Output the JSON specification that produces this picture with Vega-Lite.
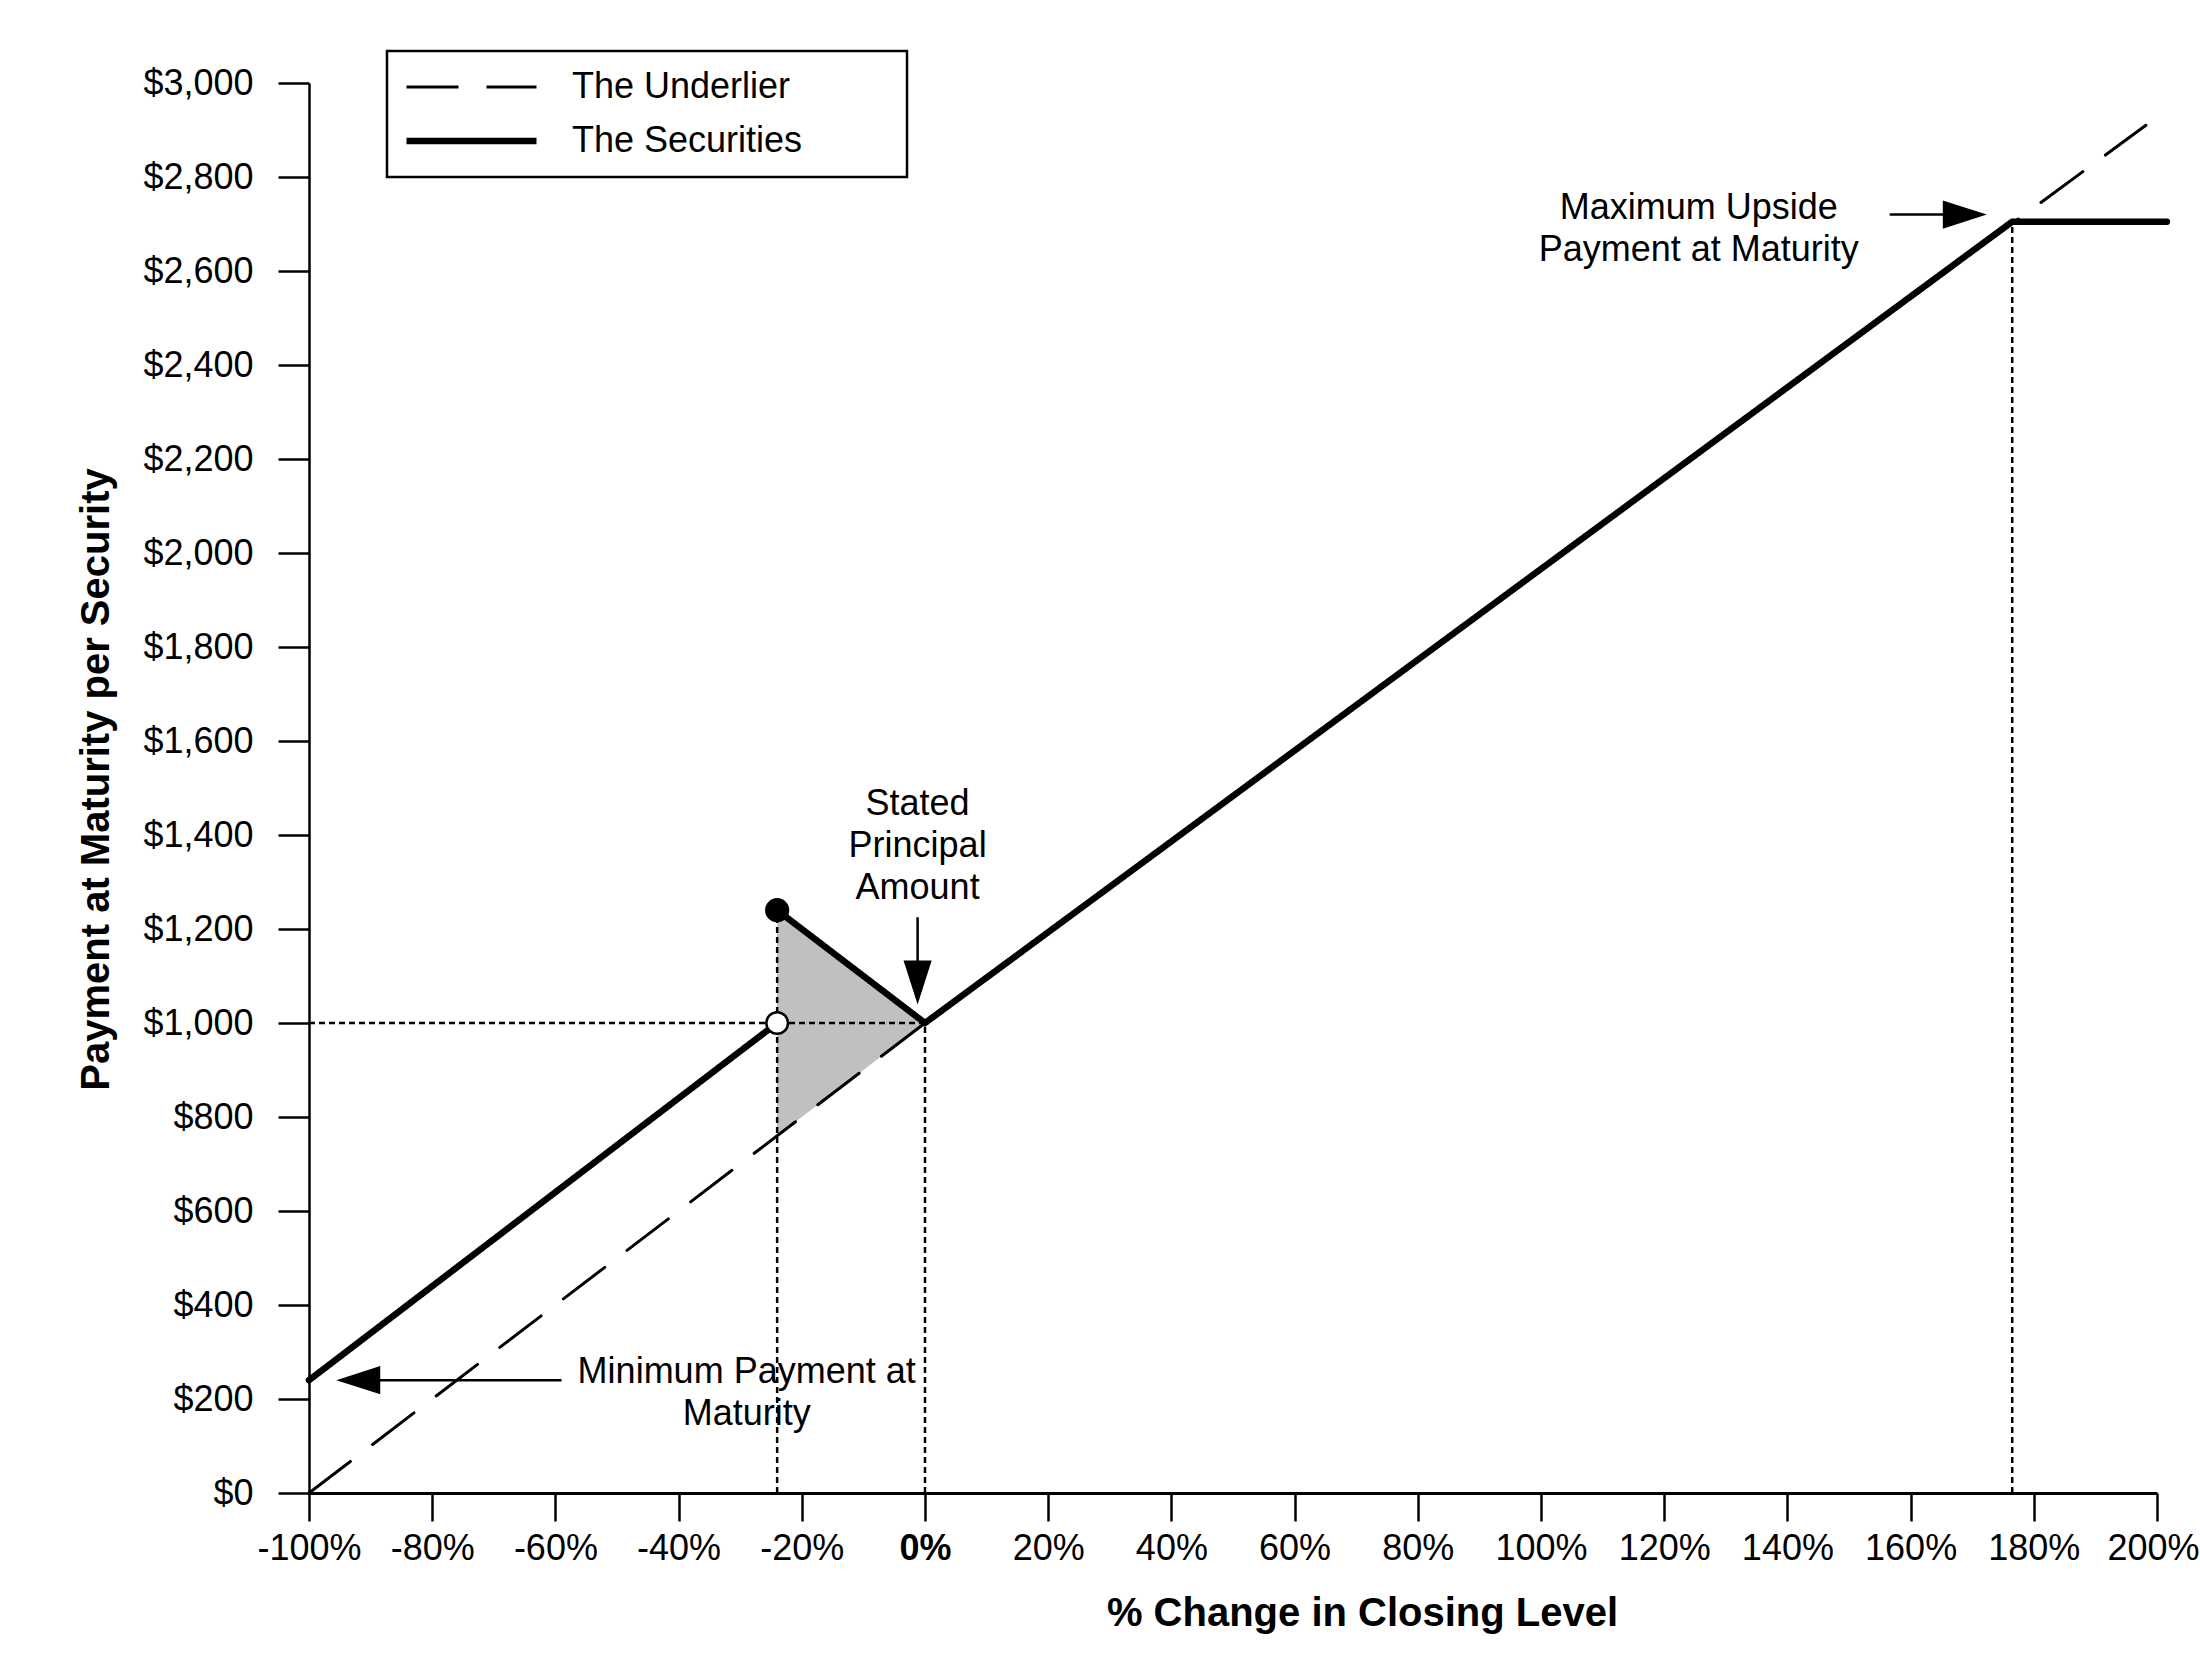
{
  "$schema": "https://vega.github.io/schema/vega-lite/v6.json",
  "width": 1848,
  "height": 1410,
  "autosize": {"type": "none"},
  "padding": {"left": 309, "top": 83, "right": 43, "bottom": 171},
  "background": "white",
  "config": {
    "view": {"stroke": null},
    "font": "Liberation Sans",
    "axis": {
      "grid": false,
      "domainColor": "black",
      "tickColor": "black",
      "labelColor": "black",
      "titleColor": "black",
      "labelFont": "Liberation Sans",
      "labelFontSize": 36,
      "titleFont": "Liberation Sans",
      "titleFontSize": 40,
      "titleFontWeight": "bold",
      "labelOverlap": false,
      "labelFlush": false
    }
  },
  "datasets": {
    "lines": [
      {"series": "The Underlier", "seg": "u", "ord": 1, "pct": -100, "pay": 0},
      {"series": "The Underlier", "seg": "u", "ord": 2, "pct": 0, "pay": 1000},
      {"series": "The Underlier", "seg": "u", "ord": 3, "pct": 198.2, "pay": 2910},
      {"series": "The Securities", "seg": "s1", "ord": 1, "pct": -100, "pay": 240},
      {"series": "The Securities", "seg": "s1", "ord": 2, "pct": -24, "pay": 1000},
      {"series": "The Securities", "seg": "s2", "ord": 1, "pct": -24, "pay": 1240},
      {"series": "The Securities", "seg": "s2", "ord": 2, "pct": 0, "pay": 1000},
      {"series": "The Securities", "seg": "s2", "ord": 3, "pct": 176.5, "pay": 2705},
      {"series": "The Securities", "seg": "s2", "ord": 4, "pct": 201.6, "pay": 2705}
    ],
    "shade": [
      {"pct": -24, "lo": 760, "hi": 1240},
      {"pct": 0, "lo": 1000, "hi": 1000}
    ],
    "guides": [
      {"pct": -100, "pay": 1000, "pct2": 0, "pay2": 1000},
      {"pct": -24, "pay": 0, "pct2": -24, "pay2": 1240},
      {"pct": 0, "pay": 0, "pct2": 0, "pay2": 1000},
      {"pct": 176.5, "pay": 0, "pct2": 176.5, "pay2": 2705}
    ],
    "dots": [
      {"pct": -24, "pay": 1240, "kind": "closed"},
      {"pct": -24, "pay": 1000, "kind": "open"}
    ],
    "shafts": [
      {"pct": 156.6, "pay": 2720, "pct2": 167, "pay2": 2720},
      {"pct": -1.2, "pay": 1225, "pct2": -1.2, "pay2": 1090},
      {"pct": -92, "pay": 240, "pct2": -59, "pay2": 240}
    ],
    "heads": [
      {"pct": 168.8, "pay": 2720, "dir": "right"},
      {"pct": -1.2, "pay": 1086, "dir": "down"},
      {"pct": -92, "pay": 240, "dir": "left"}
    ],
    "notes": [
      {"pct": 125.6, "pay": 2734, "label": "Maximum Upside|Payment at Maturity"},
      {"pct": -1.2, "pay": 1466, "label": "Stated|Principal|Amount"},
      {"pct": -28.95, "pay": 257, "label": "Minimum Payment at|Maturity"}
    ],
    "frame": [
      {"pct": -87.34, "pay": 3068, "pct2": -2.92, "pay2": 2800}
    ]
  },
  "encoding": {
    "x": {
      "field": "pct",
      "type": "quantitative",
      "scale": {"domain": [-100, 200], "nice": false, "zero": false},
      "axis": {
        "values": [-100, -80, -60, -40, -20, 0, 20, 40, 60, 80, 100, 120, 140, 160, 180, 200],
        "labelExpr": "datum.value + '%'",
        "labelFontWeight": {"condition": {"test": "datum.value === 0", "value": "bold"}, "value": "normal"},
        "labelOffset": {"condition": {"test": "datum.value === 200", "value": -4}, "value": 0},
        "domainWidth": 3,
        "tickWidth": 2.5,
        "tickSize": 28,
        "labelPadding": 10,
        "title": "% Change in Closing Level",
        "titleX": 1053,
        "titleY": 132,
        "titleAlign": "center",
        "titleBaseline": "alphabetic"
      }
    },
    "y": {
      "field": "pay",
      "type": "quantitative",
      "scale": {"domain": [0, 3000], "nice": false},
      "axis": {
        "values": [0, 200, 400, 600, 800, 1000, 1200, 1400, 1600, 1800, 2000, 2200, 2400, 2600, 2800, 3000],
        "format": "$,.0f",
        "domainWidth": 2.5,
        "tickWidth": 2.5,
        "tickSize": 31,
        "labelPadding": 25,
        "title": "Payment at Maturity per Security",
        "titleX": -201,
        "titleY": 696,
        "titleAlign": "center",
        "titleBaseline": "alphabetic"
      }
    }
  },
  "layer": [
    {
      "data": {"name": "frame"},
      "mark": {"type": "rect", "fill": "white", "stroke": "black", "strokeWidth": 2.5},
      "encoding": {
        "x2": {"field": "pct2"},
        "y2": {"field": "pay2"}
      }
    },
    {
      "data": {"name": "shade"},
      "mark": {"type": "area", "color": "#c0c0c0"},
      "encoding": {
        "y": {"field": "lo", "type": "quantitative"},
        "y2": {"field": "hi"}
      }
    },
    {
      "data": {"name": "guides"},
      "mark": {"type": "rule", "color": "black", "strokeWidth": 2.5, "strokeDash": [6, 4]},
      "encoding": {
        "x2": {"field": "pct2"},
        "y2": {"field": "pay2"}
      }
    },
    {
      "data": {"name": "lines"},
      "mark": {"type": "line", "color": "black", "strokeCap": "round", "strokeJoin": "miter"},
      "encoding": {
        "detail": {"field": "seg", "type": "nominal"},
        "order": {"field": "ord", "type": "quantitative"},
        "strokeDash": {
          "field": "series",
          "type": "ordinal",
          "scale": {"domain": ["The Underlier", "The Securities"], "range": [[52, 28], [1, 0]]},
          "legend": {
            "title": null,
            "orient": "none",
            "legendX": 78,
            "legendY": -32,
            "symbolType": "stroke",
            "symbolSize": 16900,
            "symbolStrokeColor": "black",
            "clipHeight": 40,
            "rowPadding": 14,
            "padding": 16,
            "labelOffset": 32,
            "labelLimit": 0,
            "labelFont": "Liberation Sans",
            "labelFontSize": 36,
            "labelColor": "black"
          }
        },
        "strokeWidth": {
          "field": "series",
          "type": "ordinal",
          "scale": {"domain": ["The Underlier", "The Securities"], "range": [3, 6.5]},
          "legend": {
            "title": null,
            "orient": "none",
            "legendX": 78,
            "legendY": -32,
            "symbolType": "stroke",
            "symbolSize": 16900,
            "symbolStrokeColor": "black",
            "clipHeight": 40,
            "rowPadding": 14,
            "padding": 16,
            "labelOffset": 32,
            "labelLimit": 0,
            "labelFont": "Liberation Sans",
            "labelFontSize": 36,
            "labelColor": "black"
          }
        }
      }
    },
    {
      "data": {"name": "dots"},
      "mark": {"type": "point", "shape": "circle", "filled": true, "stroke": "black", "strokeWidth": 2.5, "size": 470, "opacity": 1},
      "encoding": {
        "fill": {
          "field": "kind",
          "type": "nominal",
          "scale": {"domain": ["closed", "open"], "range": ["black", "white"]},
          "legend": null
        }
      }
    },
    {
      "data": {"name": "shafts"},
      "mark": {"type": "rule", "color": "black", "strokeWidth": 2.5},
      "encoding": {
        "x2": {"field": "pct2"},
        "y2": {"field": "pay2"}
      }
    },
    {
      "data": {"name": "heads"},
      "mark": {"type": "point", "filled": true, "color": "black", "size": 1936, "opacity": 1},
      "encoding": {
        "shape": {
          "field": "dir",
          "type": "nominal",
          "scale": {
            "domain": ["right", "down", "left"],
            "range": ["M-1,-0.64L1,0L-1,0.64Z", "M-0.64,-1L0.64,-1L0,1Z", "M1,-0.64L-1,0L1,0.64Z"]
          },
          "legend": null
        }
      }
    },
    {
      "data": {"name": "notes"},
      "mark": {
        "type": "text",
        "font": "Liberation Sans",
        "fontSize": 36,
        "color": "black",
        "align": "center",
        "baseline": "middle",
        "lineBreak": "|",
        "lineHeight": 42
      },
      "encoding": {
        "text": {"field": "label", "type": "nominal"}
      }
    }
  ]
}
